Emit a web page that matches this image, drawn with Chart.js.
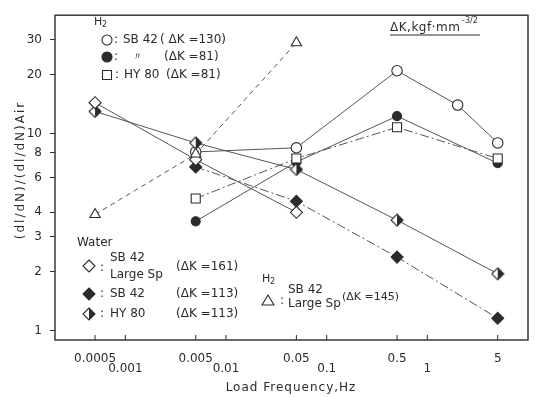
<!DOCTYPE html>
<html>
<head>
<meta charset="utf-8">
<script src="https://cdn.jsdelivr.net/npm/chart.js"></script>
<title>Load frequency</title>
<style>
  body { margin: 0; background: #fff; }
  #wrap { width: 536px; height: 397px; }
</style>
</head>
<body>
<div id="wrap"><canvas id="myChart"></canvas></div>
<script>
// H2, SB42 dK=130 (open circle)
var sb42K130Freq = [0.005, 0.05, 0.5, 2, 5];
var sb42K130Ratio = [8.1, 8.5, 20.9, 14.0, 9.0];
// H2, SB42 dK=81 (filled circle)
var sb42K81Freq = [0.005, 0.05, 0.5, 5];
var sb42K81Ratio = [3.6, 7.2, 12.3, 7.1];
// H2, HY80 dK=81 (square)
var hy80K81Freq = [0.005, 0.05, 0.5, 5];
var hy80K81Ratio = [4.7, 7.5, 10.8, 7.5];
// H2, SB42 large specimen dK=145 (triangle)
var sb42LargeK145Freq = [0.0005, 0.005, 0.05];
var sb42LargeK145Ratio = [3.9, 7.9, 29.0];
// Water, SB42 large specimen dK=161 (open diamond)
var waterLargeK161Freq = [0.0005, 0.005, 0.05];
var waterLargeK161Ratio = [14.4, 7.4, 4.0];
// Water, SB42 dK=113 (filled diamond)
var waterSb42K113Freq = [0.005, 0.05, 0.5, 5];
var waterSb42K113Ratio = [6.8, 4.55, 2.37, 1.16];
// Water, HY80 dK=113 (half filled diamond)
var waterHy80K113Freq = [0.0005, 0.005, 0.05, 0.5, 5];
var waterHy80K113Ratio = [13.0, 9.0, 6.6, 3.65, 1.95];

var xTopTicks = [0.0005, 0.005, 0.05, 0.5, 5];
var xTopLabels = ['0.0005', '0.005', '0.05', '0.5', '5'];
var xBottomTicks = [0.001, 0.01, 0.1, 1];
var xBottomLabels = ['0.001', '0.01', '0.1', '1'];
var yTicks = [1, 2, 3, 4, 6, 8, 10, 20, 30];

var INK = '#2b2b2b';
var LINE = '#555';
var FONT = '"DejaVu Sans", sans-serif';

function pts(xs, ys) {
    var out = [];
    for (var i = 0; i < xs.length; i++) out.push({ x: xs[i], y: ys[i] });
    return out;
}

// half filled diamond (left white, right black)
function halfDiamond() {
    var c = document.createElement('canvas');
    c.width = 14; c.height = 14;
    var g = c.getContext('2d');
    g.beginPath(); g.moveTo(7, 1); g.lineTo(7, 13); g.lineTo(1, 7); g.closePath();
    g.fillStyle = '#fff'; g.fill();
    g.beginPath(); g.moveTo(7, 1); g.lineTo(13, 7); g.lineTo(7, 13); g.closePath();
    g.fillStyle = INK; g.fill();
    g.beginPath(); g.moveTo(7, 1); g.lineTo(13, 7); g.lineTo(7, 13); g.lineTo(1, 7); g.closePath();
    g.strokeStyle = INK; g.lineWidth = 1.1; g.stroke();
    return c;
}
var halfImg = halfDiamond();

function ds(data, style, fill, radius, dash) {
    return {
        data: data,
        borderColor: LINE,
        borderWidth: 1,
        borderDash: dash || [],
        pointStyle: style,
        pointRadius: radius,
        pointBorderColor: INK,
        pointBorderWidth: 1.1,
        pointBackgroundColor: fill,
        tension: 0
    };
}

var dashDot = [9, 3, 2, 3];

// text and frame that the library does not draw
var decor = {
    id: 'decor',
    afterDraw: function (chart) {
        var ctx = chart.ctx, ca = chart.chartArea, xs = chart.scales.x;
        ctx.save();
        ctx.strokeStyle = INK;
        ctx.lineWidth = 1.4;
        ctx.strokeRect(ca.left, ca.top, ca.right - ca.left, ca.bottom - ca.top);
        // inward x ticks
        ctx.lineWidth = 1;
        xTopTicks.concat(xBottomTicks).forEach(function (v) {
            var px = xs.getPixelForValue(v);
            ctx.beginPath(); ctx.moveTo(px, ca.bottom); ctx.lineTo(px, ca.bottom - 5); ctx.stroke();
        });

        ctx.fillStyle = INK;
        ctx.textBaseline = 'middle';
        function t(s, x, y, size, align) {
            ctx.font = (size || 12) + 'px ' + FONT;
            ctx.textAlign = align || 'left';
            ctx.fillText(s, x, y);
        }
        function h2(x, y) { t('H', x, y, 11); t('2', x + 8, y + 3, 8); }
        function sym(kind, x, y) {
            ctx.beginPath();
            ctx.lineWidth = 1.1;
            if (kind === 'circle' || kind === 'dot') {
                ctx.arc(x, y, 5, 0, Math.PI * 2);
            } else if (kind === 'square') {
                ctx.rect(x - 4.5, y - 4.5, 9, 9);
            } else if (kind === 'diamond' || kind === 'fdiamond') {
                ctx.moveTo(x, y - 6); ctx.lineTo(x + 6, y); ctx.lineTo(x, y + 6); ctx.lineTo(x - 6, y); ctx.closePath();
            } else if (kind === 'triangle') {
                ctx.moveTo(x, y - 6); ctx.lineTo(x + 6, y + 4); ctx.lineTo(x - 6, y + 4); ctx.closePath();
            } else if (kind === 'half') {
                ctx.drawImage(halfImg, x - 7, y - 7);
                return;
            }
            ctx.fillStyle = (kind === 'dot' || kind === 'fdiamond') ? INK : '#fff';
            ctx.fill();
            ctx.stroke();
            ctx.fillStyle = INK;
        }

        // H2 legend
        h2(94, 22);
        sym('circle', 107, 40); t(':', 114, 40); t('SB 42', 123, 40); t('( \u0394K =130)', 160, 40);
        sym('dot', 107, 57); t(':', 114, 57); t('\u3003', 132, 57, 11); t('(\u0394K =81)', 164, 57);
        sym('square', 107, 75); t(':', 115, 75); t('HY 80', 124, 75); t('(\u0394K =81)', 166, 75);

        // unit
        ctx.letterSpacing = '0.5px';
        t('\u0394K,kgf\u00b7mm', 390, 28);
        ctx.letterSpacing = '0px';
        t('-3/2', 462, 21, 8);
        ctx.lineWidth = 1;
        ctx.beginPath(); ctx.moveTo(390, 35); ctx.lineTo(480, 35); ctx.stroke();

        // water legend
        t('Water', 77, 243);
        sym('diamond', 89, 266); t(':', 100, 268); t('SB 42', 110, 258); t('Large Sp', 110, 275);
        t('(\u0394K =161)', 176, 267);
        sym('fdiamond', 89, 294); t(':', 100, 294); t('SB 42', 110, 294); t('(\u0394K =113)', 176, 294);
        sym('half', 89, 314); t(':', 100, 314); t('HY 80', 110, 314); t('(\u0394K =113)', 176, 314);

        // H2 large specimen legend
        h2(262, 279);
        sym('triangle', 268, 301); t(':', 280, 301); t('SB 42', 288, 290); t('Large Sp', 288, 304);
        t('(\u0394K =145)', 342, 297, 11);

        // axis titles
        ctx.letterSpacing = '1px';
        t('Load Frequency,Hz', 291, 388, 12, 'center');
        ctx.save();
        ctx.translate(21, 170);
        ctx.rotate(-Math.PI / 2);
        ctx.letterSpacing = '2px';
        t('(dl/dN)/(dl/dN)Air', 0, 0, 12, 'center');
        ctx.restore();
        ctx.restore();
    }
};

var ctx = document.getElementById('myChart').getContext('2d');
var myChart = new Chart(ctx, {
    type: 'line',
    data: {
        datasets: [
            ds(pts(sb42LargeK145Freq, sb42LargeK145Ratio), 'triangle', '#fff', 6, [5, 4]),
            ds(pts(waterLargeK161Freq, waterLargeK161Ratio), 'rectRot', '#fff', 6),
            ds(pts(waterSb42K113Freq, waterSb42K113Ratio), 'rectRot', INK, 6, dashDot),
            ds(pts(waterHy80K113Freq, waterHy80K113Ratio), halfImg, '#fff', 6),
            ds(pts(hy80K81Freq, hy80K81Ratio), 'rect', '#fff', 6.4, dashDot),
            ds(pts(sb42K81Freq, sb42K81Ratio), 'circle', INK, 4.5),
            ds(pts(sb42K130Freq, sb42K130Ratio), 'circle', '#fff', 5.2)
        ]
    },
    options: {
        responsive: true,
        maintainAspectRatio: false,
        animation: false,
        layout: { padding: { left: 0, top: 5, right: 8, bottom: 0 } },
        plugins: { legend: { display: false }, tooltip: { enabled: false } },
        scales: {
            x: {
                type: 'logarithmic',
                min: 0.0002,
                max: 10,
                afterBuildTicks: function (s) {
                    s.ticks = xTopTicks.concat(xBottomTicks).map(function (v) { return { value: v }; });
                },
                afterFit: function (s) { s.height = 57; },
                grid: { display: false },
                border: { display: false },
                ticks: {
                    autoSkip: false,
                    maxRotation: 0,
                    padding: 6,
                    color: INK,
                    font: { family: FONT, size: 12, lineHeight: 0.8 },
                    callback: function (v) {
                        var i = xTopTicks.indexOf(v);
                        if (i >= 0) return [xTopLabels[i], ''];
                        var j = xBottomTicks.indexOf(v);
                        if (j >= 0) return ['', xBottomLabels[j]];
                        return '';
                    }
                }
            },
            y: {
                type: 'logarithmic',
                min: 0.9,
                max: 40,
                afterBuildTicks: function (s) {
                    s.ticks = yTicks.map(function (v) { return { value: v }; });
                },
                afterFit: function (s) { s.width = 55; },
                grid: { drawOnChartArea: false, drawTicks: true, tickLength: 5, color: INK },
                border: { display: false },
                ticks: {
                    autoSkip: false,
                    padding: 8,
                    color: INK,
                    font: { family: FONT, size: 12 },
                    callback: function (v) { return String(v); }
                }
            }
        }
    },
    plugins: [decor]
});
</script>
</body>
</html>
